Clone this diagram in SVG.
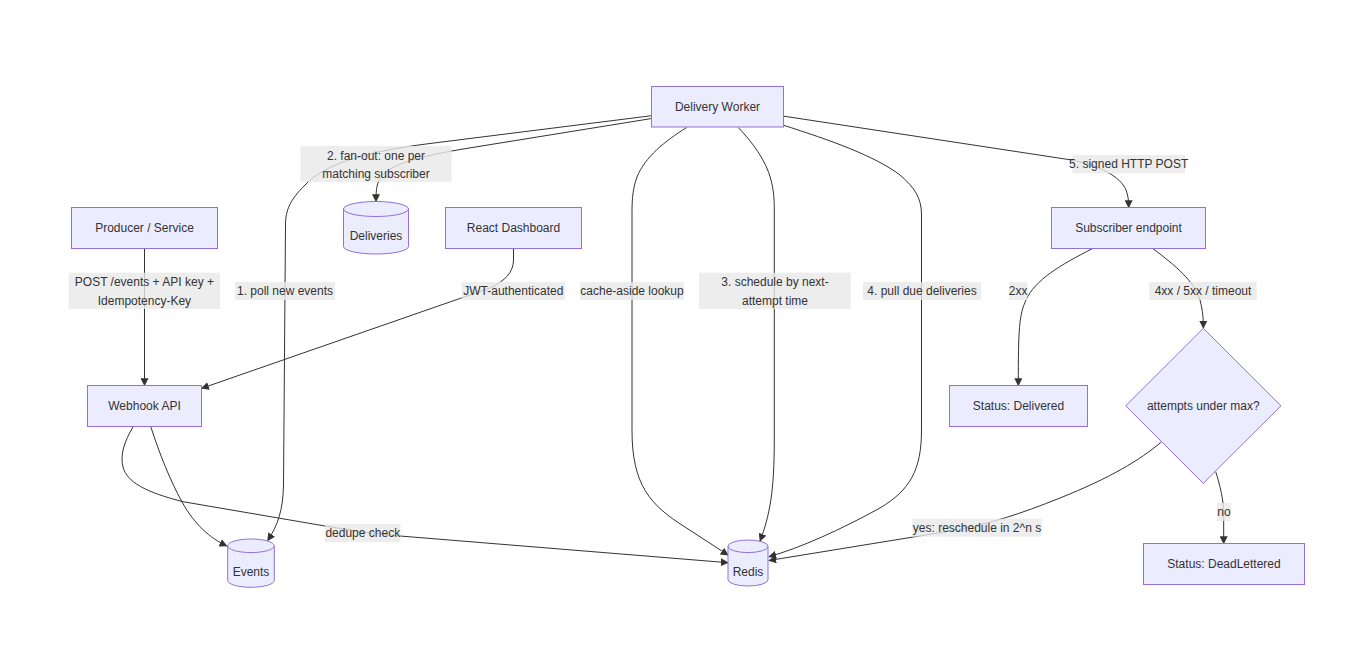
<svg xmlns="http://www.w3.org/2000/svg" width="1367" height="660" viewBox="0 0 1367 660">
<style>
  .node { fill: #ECECFF; stroke: #9370DB; stroke-width: 1; }
  .edge { fill: none; stroke: #333333; stroke-width: 1; }
  .lbl-bg { fill: #E8E8E8; fill-opacity: 0.8; stroke: none; }
  text { font-family: "Liberation Sans", Arial, sans-serif; font-size: 12px; fill: #333333; text-anchor: middle; }
</style>
<defs>
  <marker id="arr" viewBox="0 0 10 10" refX="9" refY="5" markerUnits="userSpaceOnUse" markerWidth="8" markerHeight="8" orient="auto">
    <path d="M0,0 L10,5 L0,10 z" fill="#333333"/>
  </marker>
</defs>
<rect width="1367" height="660" fill="#FFFFFF"/>

<g id="connectors">
  <path class="edge" marker-end="url(#arr)" d="M144.5,248.5 L144.5,385.5"/>
  <path class="edge" marker-end="url(#arr)" d="M513.5,248.5 L513.5,260 C513.5,272 505,281 490,288 L201.7,388.3"/>
  <path class="edge" marker-end="url(#arr)" d="M150.7,426.5 C160,455 170,480 182,502 C195,525 210,538 226.7,546"/>
  <path class="edge" marker-end="url(#arr)" d="M133.3,426.5 C124,442 120,455 123,467 C127,482 145,492 183,501.7 L325,526 Q363,533 400,536 L728,562.7"/>
  <path class="edge" marker-end="url(#arr)" d="M651.7,115.7 L430,143.5 C370,151 325,163 305,185 C290,200 285.5,210 285.5,225 L283.5,485 C283,510 278,525 267.7,540.5"/>
  <path class="edge" marker-end="url(#arr)" d="M651.7,118.5 L460,149.5 C415,157.5 390,165 381,177 C377,183 376,188 376,201.5"/>
  <path class="edge" marker-end="url(#arr)" d="M686.7,127.5 C665,141 645,157 637,177 C633,188 632,198 632,212 L632,430 C632,485 650,505 685,527 L728,555"/>
  <path class="edge" marker-end="url(#arr)" d="M738.3,127.5 C752,142 766,160 771,180 C773.5,190 774.3,198 774.3,210 L774.3,440 C774.3,490 770,515 760,541"/>
  <path class="edge" marker-end="url(#arr)" d="M782.7,125 C830,140 875,156 900,175 C915,188 921.5,198 921.5,215 L921.5,430 C921.5,470 910,490 880,508 C840,530 800,548 769,556.7"/>
  <path class="edge" marker-end="url(#arr)" d="M782.7,116 L1071.7,160 C1100,166 1120,176 1126,190 C1128,195 1128.7,200 1128.7,207.5"/>
  <path class="edge" marker-end="url(#arr)" d="M1092.7,248.5 C1060,265 1035,280 1026,300 C1019,315 1018.3,330 1018.3,385.5"/>
  <path class="edge" marker-end="url(#arr)" d="M1152.7,248.5 C1175,265 1195,282 1200,300 C1203,312 1203.3,318 1203.3,328"/>
  <path class="edge" marker-end="url(#arr)" d="M1161,442.3 C1140,460 1110,478 1060,498 C1020,514 990,524 950,531 L769,560.5"/>
  <path class="edge" marker-end="url(#arr)" d="M1215.7,471.7 C1220,485 1223.7,500 1223.7,515 L1223.7,543.5"/>
</g>

<g id="edge-labels">
  <rect class="lbl-bg" x="300.5" y="146" width="151" height="36"/>
  <text x="376" y="160">2. fan-out: one per</text>
  <text x="376" y="178">matching subscriber</text>

  <rect class="lbl-bg" x="68.7" y="272.7" width="151.3" height="36.3"/>
  <text x="144.4" y="286">POST /events + API key +</text>
  <text x="144.4" y="304.5">Idempotency-Key</text>

  <rect class="lbl-bg" x="235" y="282" width="100" height="18"/>
  <text x="285" y="295">1. poll new events</text>

  <rect class="lbl-bg" x="461.7" y="282" width="103.3" height="18"/>
  <text x="513.3" y="295">JWT-authenticated</text>

  <rect class="lbl-bg" x="580" y="282" width="104" height="18"/>
  <text x="632" y="295">cache-aside lookup</text>

  <rect class="lbl-bg" x="699" y="272.7" width="151.7" height="36.3"/>
  <text x="775" y="286">3. schedule by next-</text>
  <text x="775" y="304.5">attempt time</text>

  <rect class="lbl-bg" x="863" y="282" width="118" height="18"/>
  <text x="922" y="295">4. pull due deliveries</text>

  <rect class="lbl-bg" x="1009" y="282" width="18.3" height="18"/>
  <text x="1018.2" y="295">2xx</text>

  <rect class="lbl-bg" x="1149.3" y="282" width="107.4" height="18"/>
  <text x="1203" y="295">4xx / 5xx / timeout</text>

  <rect class="lbl-bg" x="1072.3" y="155" width="112.7" height="18.3"/>
  <text x="1128.7" y="168">5. signed HTTP POST</text>

  <rect class="lbl-bg" x="1217" y="503" width="13.7" height="18"/>
  <text x="1223.9" y="516">no</text>

  <rect class="lbl-bg" x="912.3" y="518.7" width="129.4" height="18"/>
  <text x="977" y="531.7">yes: reschedule in 2^n s</text>

  <rect class="lbl-bg" x="325" y="524" width="75.5" height="18"/>
  <text x="362.8" y="537">dedupe check</text>
</g>

<g id="delivery-worker">
  <rect class="node" x="651.5" y="86.5" width="132" height="40.5"/>
  <text x="717.5" y="111">Delivery Worker</text>
</g>
<g id="producer">
  <rect class="node" x="71.5" y="207.5" width="146" height="41"/>
  <text x="144.5" y="232">Producer / Service</text>
</g>
<g id="react-dashboard">
  <rect class="node" x="445.5" y="207.5" width="136" height="41"/>
  <text x="513.5" y="232">React Dashboard</text>
</g>
<g id="deliveries">
  <path class="node" d="M343.5,209 a32.5,7.5 0 0,0 65,0 a32.5,7.5 0 0,0 -65,0 l0,37.5 a32.5,7.5 0 0,0 65,0 l0,-37.5"/>
  <text x="376" y="240">Deliveries</text>
</g>
<g id="webhook-api">
  <rect class="node" x="87.5" y="385.5" width="114" height="41"/>
  <text x="144.5" y="410">Webhook API</text>
</g>
<g id="events">
  <path class="node" d="M227.7,545.8 a23.3,6.8 0 0,0 46.6,0 a23.3,6.8 0 0,0 -46.6,0 l0,34.7 a23.3,6.8 0 0,0 46.6,0 l0,-34.7"/>
  <text x="251" y="576">Events</text>
</g>
<g id="redis">
  <path class="node" d="M728,546.3 a20,6.3 0 0,0 40,0 a20,6.3 0 0,0 -40,0 l0,33.4 a20,6.3 0 0,0 40,0 l0,-33.4"/>
  <text x="748" y="576">Redis</text>
</g>
<g id="subscriber-endpoint">
  <rect class="node" x="1051.5" y="207.5" width="154" height="41"/>
  <text x="1128.5" y="232">Subscriber endpoint</text>
</g>
<g id="status-delivered">
  <rect class="node" x="949.5" y="385.5" width="138" height="41"/>
  <text x="1018.5" y="410">Status: Delivered</text>
</g>
<g id="attempts-decision">
  <polygon class="node" points="1203.3,328.3 1281,405.8 1203.3,483.3 1125.7,405.8"/>
  <text x="1203.3" y="410">attempts under max?</text>
</g>
<g id="status-deadlettered">
  <rect class="node" x="1143.5" y="543.5" width="161" height="41"/>
  <text x="1224" y="568">Status: DeadLettered</text>
</g>
</svg>
